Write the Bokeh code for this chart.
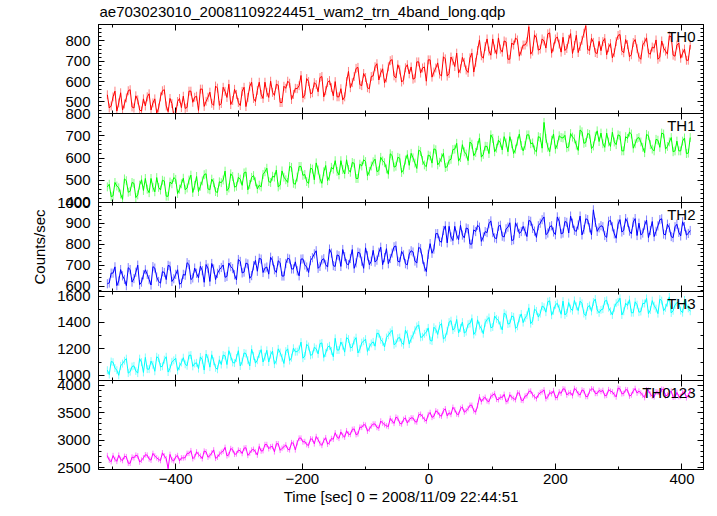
import numpy as np
from bokeh.plotting import figure
from bokeh.layouts import column
from bokeh.models import (Range1d, LinearAxis, SingleIntervalTicker, FixedTicker, Label,
                          Grid, CustomLabelingPolicy)
from bokeh.embed import file_html
from bokeh.resources import INLINE

title_text = "ae703023010_20081109224451_wam2_trn_4band_long.qdp"
x_label = "Time [sec] 0 = 2008/11/09 22:44:51"
y_label = "Counts/sec"

# two interleaved sets of time bins (seconds)
time_a = list(range(-508, 411, 6))
time_b = list(range(-505, 414, 6))

th0_a = [535, 480, 553, 495, 460, 520, 560, 470, 510, 455,
         480, 540, 495, 445, 525, 560, 452, 492, 442, 517,
         528, 473, 553, 523, 458, 563, 503, 548, 483, 568,
         492, 552, 587, 507, 537, 482, 572, 522, 597, 502,
         597, 517, 547, 602, 532, 582, 497, 567, 592, 537,
         565, 630, 535, 600, 545, 585, 620, 525, 595, 570,
         600, 525, 510, 600, 570, 625, 670, 580, 620, 565,
         628, 688, 643, 593, 673, 708, 618, 658, 608, 683,
         672, 617, 697, 667, 602, 707, 647, 692, 627, 712,
         640, 702, 740, 663, 695, 645, 740, 695, 805, 715,
         810, 730, 760, 815, 745, 795, 710, 780, 805, 750,
         780, 870, 750, 815, 760, 800, 835, 740, 810, 785,
         818, 763, 836, 778, 743, 803, 875, 753, 793, 738,
         752, 812, 767, 717, 797, 832, 742, 782, 732, 807,
         720, 780, 815, 735, 765, 710, 800, 750, 825, 730,
         780, 715, 760, 705]
th0_b = [470, 525, 455, 545, 490, 555, 475, 530, 460, 515,
         525, 460, 515, 470, 555, 480, 517, 432, 502, 472,
         468, 553, 498, 528, 563, 478, 523, 493, 578, 483,
         572, 522, 487, 562, 497, 552, 477, 577, 517, 557,
         537, 597, 522, 547, 587, 497, 577, 602, 512, 567,
         580, 520, 615, 540, 595, 550, 625, 555, 605, 530,
         525, 565, 525, 650, 595, 665, 585, 640, 570, 625,
         673, 608, 663, 618, 703, 628, 683, 598, 668, 638,
         612, 697, 642, 672, 707, 622, 667, 637, 722, 627,
         721, 674, 642, 719, 657, 717, 647, 753, 727, 773,
         750, 810, 735, 760, 800, 710, 790, 815, 725, 780,
         795, 735, 830, 755, 810, 765, 840, 770, 820, 745,
         753, 808, 738, 828, 773, 838, 758, 813, 743, 798,
         797, 732, 787, 742, 827, 752, 807, 722, 792, 762,
         710, 795, 740, 770, 805, 720, 765, 735, 820, 725,
         790, 740, 705, 780]

th1_a = [470, 426, 490, 466, 414, 498, 450, 486, 434, 502,
         508, 444, 468, 512, 456, 496, 428, 484, 504, 460,
         509, 465, 523, 477, 449, 497, 529, 457, 489, 445,
         489, 541, 465, 517, 473, 505, 533, 457, 513, 493,
         478, 526, 554, 490, 514, 470, 542, 502, 562, 486,
         514, 562, 526, 486, 550, 578, 506, 538, 498, 558,
         588, 524, 548, 592, 536, 576, 508, 564, 584, 540,
         583, 539, 603, 579, 527, 611, 563, 599, 547, 615,
         621, 577, 635, 589, 561, 609, 641, 569, 601, 557,
         590, 638, 666, 602, 628, 588, 662, 625, 690, 616,
         652, 704, 628, 680, 636, 668, 696, 620, 676, 656,
         656, 704, 668, 628, 692, 760, 648, 680, 640, 700,
         690, 646, 710, 686, 634, 718, 670, 706, 654, 722,
         712, 648, 672, 716, 660, 700, 632, 688, 708, 664,
         692, 648, 706, 660, 632, 680, 712, 640, 672, 628,
         676, 632, 690, 622]
th1_b = [482, 430, 474, 438, 506, 446, 490, 422, 478, 454,
         460, 508, 448, 468, 500, 428, 492, 512, 440, 484,
         457, 501, 445, 517, 473, 525, 461, 505, 449, 493,
         501, 453, 529, 469, 513, 477, 537, 481, 521, 461,
         470, 538, 494, 518, 546, 478, 514, 490, 558, 482,
         562, 522, 494, 554, 502, 546, 486, 566, 518, 550,
         540, 588, 528, 548, 580, 508, 572, 592, 520, 564,
         595, 543, 587, 551, 619, 559, 603, 535, 591, 567,
         601, 553, 629, 569, 613, 577, 637, 581, 621, 561,
         594, 640, 586, 660, 618, 672, 610, 656, 604, 653,
         620, 688, 644, 668, 696, 628, 664, 640, 708, 632,
         704, 664, 636, 696, 644, 688, 628, 708, 660, 692,
         702, 650, 694, 658, 726, 666, 710, 642, 698, 674,
         664, 712, 652, 672, 704, 632, 696, 716, 644, 688,
         672, 624, 700, 640, 684, 648, 708, 652, 692, 632,
         632, 676, 620, 692]

th2_a = [611, 662, 692, 624, 649, 602, 679, 636, 700, 619,
         678, 631, 693, 643, 614, 665, 699, 622, 656, 609,
         656, 712, 631, 686, 639, 674, 703, 622, 682, 661,
         689, 642, 710, 684, 629, 718, 667, 706, 650, 723,
         733, 665, 691, 738, 678, 721, 648, 708, 729, 682,
         673, 729, 701, 665, 736, 769, 694, 731, 691, 758,
         694, 745, 775, 707, 732, 685, 762, 719, 783, 702,
         771, 724, 786, 736, 707, 758, 792, 715, 749, 702,
         769, 720, 785, 729, 669, 803, 777, 851, 810, 888,
         886, 818, 844, 891, 831, 874, 801, 861, 882, 835,
         856, 912, 831, 886, 839, 874, 903, 822, 882, 861,
         863, 914, 876, 833, 901, 931, 854, 889, 846, 910,
         854, 905, 935, 867, 892, 845, 922, 879, 965, 862,
         889, 842, 910, 884, 829, 918, 867, 906, 850, 923,
         901, 854, 916, 866, 837, 888, 922, 845, 879, 832,
         896, 840, 885, 852]
th2_b = [615, 662, 602, 679, 632, 688, 619, 666, 607, 654,
         656, 605, 686, 622, 669, 631, 695, 635, 678, 614,
         652, 703, 639, 661, 695, 618, 686, 708, 631, 678,
         701, 646, 693, 654, 727, 663, 710, 637, 697, 671,
         729, 686, 657, 721, 665, 712, 648, 733, 682, 716,
         649, 730, 691, 722, 754, 685, 725, 702, 777, 698,
         749, 694, 741, 702, 775, 711, 758, 685, 745, 719,
         715, 762, 702, 779, 732, 788, 719, 766, 707, 754,
         763, 710, 779, 692, 752, 757, 851, 815, 866, 807,
         835, 886, 822, 844, 878, 801, 869, 891, 814, 861,
         899, 856, 827, 891, 835, 882, 818, 903, 852, 886,
         837, 910, 863, 889, 918, 846, 884, 859, 931, 850,
         909, 854, 901, 862, 935, 871, 918, 845, 905, 879,
         884, 833, 914, 850, 897, 859, 923, 863, 906, 842,
         845, 892, 832, 909, 862, 918, 849, 896, 837, 884,
         857, 908, 844, 866]

th3_a = [1038, 1104, 1054, 999, 1088, 1126, 1027, 1071, 1016, 1099,
         1135, 1046, 1079, 1140, 1063, 1118, 1024, 1102, 1129, 1068,
         1133, 1072, 1153, 1089, 1050, 1117, 1161, 1061, 1106, 1045,
         1081, 1147, 1186, 1097, 1131, 1070, 1169, 1114, 1197, 1092,
         1161, 1100, 1189, 1156, 1084, 1200, 1133, 1183, 1111, 1205,
         1179, 1251, 1146, 1218, 1157, 1201, 1240, 1135, 1212, 1184,
         1280, 1191, 1224, 1285, 1208, 1263, 1169, 1247, 1274, 1213,
         1253, 1319, 1269, 1214, 1303, 1341, 1242, 1286, 1231, 1314,
         1276, 1342, 1381, 1292, 1326, 1265, 1364, 1309, 1392, 1287,
         1403, 1342, 1423, 1359, 1320, 1387, 1431, 1331, 1376, 1315,
         1421, 1360, 1449, 1416, 1344, 1460, 1393, 1443, 1371, 1465,
         1434, 1511, 1411, 1488, 1467, 1516, 1558, 1455, 1534, 1506,
         1562, 1473, 1506, 1567, 1490, 1545, 1451, 1529, 1556, 1495,
         1496, 1562, 1512, 1457, 1546, 1584, 1485, 1529, 1474, 1557,
         1478, 1544, 1583, 1494, 1528, 1467, 1566, 1511, 1594, 1489,
         1551, 1490, 1571, 1507]
th3_b = [1005, 1099, 1038, 1071, 1110, 1016, 1066, 1032, 1126, 1021,
         1046, 1107, 1030, 1129, 1068, 1140, 1052, 1113, 1035, 1096,
         1083, 1150, 1067, 1094, 1139, 1039, 1128, 1155, 1056, 1117,
         1153, 1081, 1142, 1092, 1186, 1103, 1164, 1070, 1147, 1114,
         1194, 1139, 1100, 1183, 1111, 1172, 1089, 1200, 1133, 1178,
         1196, 1129, 1234, 1151, 1212, 1162, 1245, 1168, 1223, 1140,
         1191, 1252, 1175, 1274, 1213, 1285, 1197, 1258, 1180, 1241,
         1220, 1314, 1253, 1286, 1325, 1231, 1281, 1247, 1341, 1236,
         1303, 1370, 1287, 1314, 1359, 1259, 1348, 1375, 1276, 1337,
         1414, 1359, 1320, 1403, 1331, 1392, 1309, 1420, 1353, 1398,
         1438, 1366, 1427, 1377, 1471, 1388, 1449, 1355, 1432, 1399,
         1454, 1391, 1501, 1441, 1524, 1478, 1564, 1489, 1545, 1462,
         1457, 1551, 1490, 1523, 1562, 1468, 1518, 1484, 1578, 1473,
         1501, 1568, 1485, 1512, 1557, 1457, 1546, 1573, 1474, 1535,
         1483, 1544, 1467, 1566, 1505, 1577, 1489, 1550, 1472, 1533,
         1546, 1474, 1535, 1485]

th0123_a = [2718, 2606, 2648, 2725, 2627, 2697, 2578, 2676, 2711, 2634,
            2732, 2655, 2757, 2676, 2627, 2711, 2480, 2641, 2697, 2620,
            2674, 2758, 2807, 2695, 2737, 2660, 2786, 2716, 2821, 2688,
            2776, 2867, 2734, 2825, 2748, 2804, 2853, 2720, 2818, 2783,
            2884, 2807, 2919, 2877, 2786, 2933, 2849, 2912, 2821, 2940,
            2952, 3036, 2973, 2903, 3015, 3064, 2938, 2994, 2924, 3029,
            3133, 3031, 3083, 3170, 3102, 3202, 3113, 3231, 3271, 3199,
            3292, 3230, 3347, 3281, 3247, 3346, 3417, 3306, 3377, 3310,
            3404, 3337, 3459, 3427, 3346, 3503, 3434, 3512, 3436, 3570,
            3496, 3597, 3474, 3575, 3508, 3574, 3633, 3510, 3788, 3753,
            3714, 3798, 3847, 3735, 3777, 3700, 3826, 3756, 3861, 3728,
            3802, 3886, 3823, 3753, 3865, 3914, 3788, 3844, 3774, 3879,
            3933, 3821, 3863, 3940, 3842, 3912, 3793, 3891, 3926, 3849,
            3884, 3807, 3919, 3877, 3786, 3933, 3849, 3912, 3821, 3940,
            3892, 3815, 3917, 3836, 3787, 3871, 3927, 3801, 3857, 3780,
            3868, 3795, 3880, 3810]
th0123_b = [2634, 2718, 2613, 2648, 2704, 2578, 2690, 2725, 2599, 2676,
            2725, 2634, 2711, 2648, 2767, 2662, 2739, 2620, 2718, 2676,
            2681, 2758, 2660, 2786, 2709, 2800, 2688, 2765, 2667, 2744,
            2797, 2713, 2846, 2741, 2818, 2755, 2860, 2762, 2832, 2727,
            2800, 2919, 2842, 2884, 2933, 2814, 2877, 2835, 2954, 2821,
            3036, 2966, 2917, 3022, 2931, 3008, 2903, 3043, 2959, 3015,
            3054, 3148, 3053, 3108, 3194, 3098, 3235, 3282, 3162, 3256,
            3293, 3216, 3309, 3260, 3395, 3304, 3397, 3292, 3403, 3371,
            3402, 3328, 3471, 3376, 3463, 3413, 3532, 3450, 3534, 3442,
            3466, 3553, 3465, 3601, 3534, 3635, 3533, 3625, 3697, 3779,
            3700, 3819, 3742, 3784, 3833, 3714, 3777, 3735, 3854, 3721,
            3809, 3893, 3788, 3823, 3879, 3753, 3865, 3900, 3774, 3851,
            3926, 3856, 3807, 3912, 3821, 3898, 3793, 3933, 3849, 3905,
            3905, 3814, 3891, 3828, 3947, 3842, 3919, 3800, 3898, 3856,
            3857, 3773, 3906, 3801, 3878, 3815, 3920, 3822, 3892, 3787,
            3791, 3868, 3770, 3896]

band_names = ["TH0", "TH1", "TH2", "TH3", "TH0123"]
band_values_a = [th0_a, th1_a, th2_a, th3_a, th0123_a]
band_values_b = [th0_b, th1_b, th2_b, th3_b, th0123_b]
band_colors = ["#ff0000", "#00ff00", "#0000ff", "#00ffff", "#ff00ff"]
band_errors = [22, 20, 22, 30, 50]
y_limits = [(443, 881), (399.9, 800.1), (574, 1000.1), (960, 1635), (2464, 4085)]
y_major = [100, 100, 100, 200, 500]
y_minor_n = [5, 5, 5, 2, 5]

x_ticks = [-400, -200, 0, 200, 400]
x_tick_labels = ["\u2212400", "\u2212200", "0", "200", "400"]
x_minor = [-500, -300, -100, 100, 300]
x_limits = (-522, 434)

FONT = "Liberation Sans"
FS = "15px"
FRAME_W, FRAME_H = 605, 89
EDGE = 10

xr = Range1d(*x_limits)


def style_axis(ax, show_labels):
    ax.major_tick_in = 6
    ax.major_tick_out = 0
    ax.minor_tick_in = 3
    ax.minor_tick_out = 0
    ax.axis_line_color = "black"
    ax.major_tick_line_color = "black"
    ax.minor_tick_line_color = "black"
    if show_labels:
        ax.major_label_text_font = FONT
        ax.major_label_text_font_size = FS
        ax.major_label_text_color = "black"
    else:
        ax.major_label_text_font_size = "1px"
        ax.major_label_standoff = 0
        ax.major_label_policy = CustomLabelingPolicy(code="return []")


figs = []
n = len(band_names)
for i in range(n):
    first = i == 0
    last = i == n - 1
    top_b = 18 if first else EDGE
    bot_b = 37 if last else EDGE
    p = figure(frame_width=FRAME_W, frame_height=FRAME_H,
               x_range=xr, y_range=Range1d(*y_limits[i]),
               output_backend="svg", toolbar_location=None,
               x_axis_location=None, y_axis_location=None,
               min_border_left=98, min_border_right=6,
               min_border_top=top_b, min_border_bottom=bot_b)
    p.center = [c for c in p.center if not isinstance(c, Grid)]
    p.background_fill_color = None
    p.border_fill_color = None
    p.outline_line_color = "black"
    p.outline_line_width = 1
    if not first:
        p.margin = (-2 * EDGE, 0, 0, 0)

    if first:
        p.title.text = title_text
        p.title.align = "left"
        p.title.text_font = FONT
        p.title.text_font_size = FS
        p.title.text_font_style = "normal"
        p.title.text_color = "black"
        p.title.standoff = 1
        p.title.offset = 1

    xt = FixedTicker(ticks=x_ticks, minor_ticks=x_minor)
    yt = SingleIntervalTicker(interval=y_major[i], num_minor_ticks=y_minor_n[i])

    ax_b = LinearAxis(ticker=xt, major_label_overrides=dict(zip(x_ticks, x_tick_labels)))
    style_axis(ax_b, last)
    if last:
        ax_b.major_label_standoff = 4
        ax_b.axis_label = x_label
        ax_b.axis_label_text_font = FONT
        ax_b.axis_label_text_font_size = FS
        ax_b.axis_label_text_font_style = "normal"
        ax_b.axis_label_text_color = "black"
        ax_b.axis_label_standoff = 1
    p.add_layout(ax_b, "below")

    ax_t = LinearAxis(ticker=xt)
    style_axis(ax_t, False)
    p.add_layout(ax_t, "above")

    ax_l = LinearAxis(ticker=yt)
    style_axis(ax_l, True)
    ax_l.major_label_standoff = 8
    if i == 2:
        ax_l.axis_label = y_label
        ax_l.axis_label_text_font = FONT
        ax_l.axis_label_text_font_size = FS
        ax_l.axis_label_text_font_style = "normal"
        ax_l.axis_label_text_color = "black"
        ax_l.axis_label_standoff = 6
    p.add_layout(ax_l, "left")

    ax_r = LinearAxis(ticker=yt)
    style_axis(ax_r, False)
    p.add_layout(ax_r, "right")

    t_all = np.array(time_a + time_b, dtype=float)
    v_all = np.array(band_values_a[i] + band_values_b[i], dtype=float)
    order = np.argsort(t_all)
    t = t_all[order]
    vals = v_all[order]
    err = band_errors[i]
    p.segment(x0=t, y0=vals - err, x1=t, y1=vals + err,
              line_color=band_colors[i], line_alpha=0.5, line_width=1)
    p.line(t, vals, line_color=band_colors[i], line_width=1)

    lo, hi = y_limits[i]
    lab = Label(x=x_limits[1] - 8 * (x_limits[1] - x_limits[0]) / FRAME_W,
                y=hi - 12 * (hi - lo) / FRAME_H,
                text=band_names[i], text_align="right", text_baseline="middle",
                text_font=FONT, text_font_size=FS, text_color="black")
    p.add_layout(lab)
    figs.append(p)

layout = column(*figs, spacing=0)
open("out.html", "w").write(file_html(layout, INLINE))
